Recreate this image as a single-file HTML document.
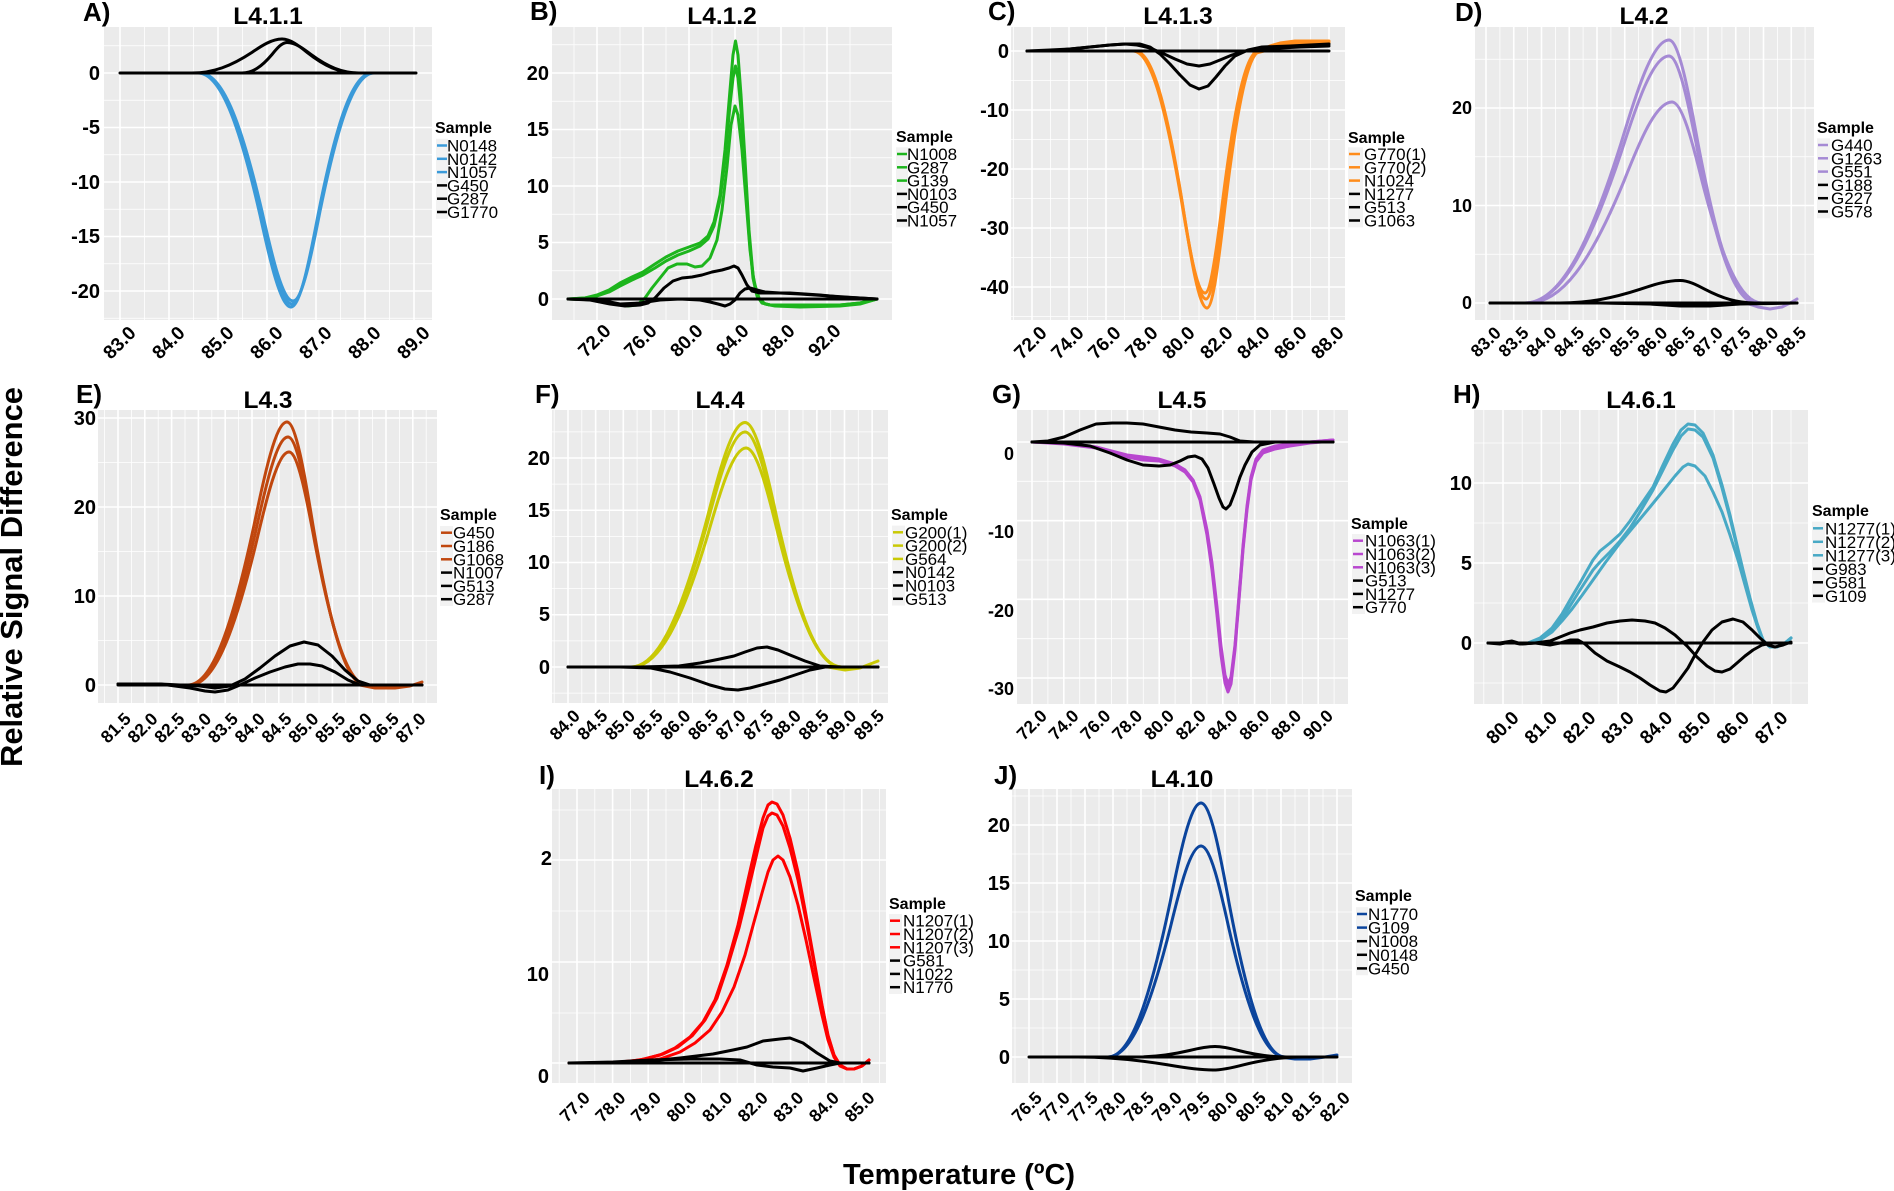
<!DOCTYPE html>
<html><head><meta charset="utf-8"><style>
html,body{margin:0;padding:0;background:#fff}
svg{display:block}
text{font-family:"Liberation Sans",Arial,sans-serif;fill:#000}
.t{font-weight:bold;font-size:24.5px;text-anchor:middle}
.L{font-weight:bold;font-size:26px}
.xl{font-weight:bold;font-size:19px;text-anchor:end}
.xs{font-weight:bold;font-size:17.5px;text-anchor:end}
.yl{font-weight:bold;font-size:20px;text-anchor:end}
.ys{font-weight:bold;font-size:18px;text-anchor:end}
.lt{font-weight:bold;font-size:16px}
.li{font-size:17px}
.bg{fill:#ebebeb}
.mj{stroke:#fff;stroke-width:1.6;fill:none}
.mn{stroke:#fff;stroke-width:.8;fill:none}
.cv path,.cv polyline{fill:none;stroke-width:3;stroke-linejoin:round;stroke-linecap:round;vector-effect:non-scaling-stroke}
.kb{fill:#f2f2f2}
.k path{stroke-width:2.5;fill:none}
</style></head><body>
<svg width="1894" height="1191" viewBox="0 0 1894 1191" xmlns="http://www.w3.org/2000/svg">

<!-- backgrounds -->
<rect class="bg" x="104" y="27" width="328" height="293"/>
<rect class="bg" x="552" y="27" width="340" height="293"/>
<rect class="bg" x="1011" y="27" width="334" height="293"/>
<rect class="bg" x="1475" y="27" width="339" height="293"/>
<rect class="bg" x="98" y="410" width="339" height="293"/>
<rect class="bg" x="552" y="410" width="336" height="293"/>
<rect class="bg" x="1017" y="410" width="331" height="294"/>
<rect class="bg" x="1474" y="410" width="334" height="294"/>
<rect class="bg" x="552" y="789" width="334" height="294"/>
<rect class="bg" x="1012" y="789" width="340" height="294"/>

<!-- grids -->
<path class="mn" d="M144.5,27V320M193.5,27V320M242.5,27V320M291.5,27V320M340.5,27V320M389.5,27V320M104,45.75H432M104,100.25H432M104,154.75H432M104,209.25H432M104,263.75H432M104,318.25H432"/>
<path class="mj" d="M120,27V320M169,27V320M218,27V320M267,27V320M316,27V320M365,27V320M414,27V320M104,73H432M104,127.5H432M104,182H432M104,236.5H432M104,291H432"/>

<path class="mn" d="M574,27V320M620,27V320M666,27V320M712,27V320M758,27V320M804,27V320M850,27V320M552,270.75H892M552,214.25H892M552,157.75H892M552,101.25H892M552,44.75H892"/>
<path class="mj" d="M597,27V320M643,27V320M689,27V320M735,27V320M781,27V320M827,27V320M552,299H892M552,242.5H892M552,186H892M552,129.5H892M552,73H892"/>

<path class="mn" d="M1013.5,27V320M1050.5,27V320M1087.5,27V320M1124.5,27V320M1161.5,27V320M1199,27V320M1236.5,27V320M1273.5,27V320M1310.5,27V320M1011,80.5H1345M1011,139.5H1345M1011,198.5H1345M1011,257.5H1345M1011,316.5H1345"/>
<path class="mj" d="M1032,27V320M1069,27V320M1106,27V320M1143,27V320M1180,27V320M1218,27V320M1255,27V320M1292,27V320M1329,27V320M1011,51H1345M1011,110H1345M1011,169H1345M1011,228H1345M1011,287H1345"/>

<path class="mn" d="M1499.9,27V320M1527.6,27V320M1555.4,27V320M1583.1,27V320M1610.9,27V320M1638.6,27V320M1666.4,27V320M1694.1,27V320M1721.9,27V320M1749.6,27V320M1777.4,27V320M1805.1,27V320M1475,254.25H1814M1475,156.75H1814M1475,59.25H1814"/>
<path class="mj" d="M1486,27V320M1513.75,27V320M1541.5,27V320M1569.25,27V320M1597,27V320M1624.75,27V320M1652.5,27V320M1680.25,27V320M1708,27V320M1735.75,27V320M1763.5,27V320M1791.25,27V320M1475,303H1814M1475,205.5H1814M1475,108H1814"/>

<path class="mn" d="M104.6,410V703M131.4,410V703M158.2,410V703M185,410V703M211.8,410V703M238.6,410V703M265.4,410V703M292.2,410V703M319,410V703M345.8,410V703M372.6,410V703M399.4,410V703M426.2,410V703M98,640.5H437M98,551.5H437M98,462.5H437"/>
<path class="mj" d="M118,410V703M144.8,410V703M171.6,410V703M198.4,410V703M225.2,410V703M252,410V703M278.8,410V703M305.6,410V703M332.4,410V703M359.2,410V703M386,410V703M412.8,410V703M98,685H437M98,596H437M98,507H437M98,418H437"/>

<path class="mn" d="M554.2,410V703M581.8,410V703M609.5,410V703M637.1,410V703M664.8,410V703M692.4,410V703M720.1,410V703M747.7,410V703M775.4,410V703M803,410V703M830.7,410V703M858.3,410V703M552,693.1H888M552,640.9H888M552,588.6H888M552,536.4H888M552,484.1H888M552,431.9H888"/>
<path class="mj" d="M568,410V703M595.65,410V703M623.3,410V703M650.95,410V703M678.6,410V703M706.25,410V703M733.9,410V703M761.55,410V703M789.2,410V703M816.85,410V703M844.5,410V703M872.15,410V703M552,667H888M552,614.75H888M552,562.5H888M552,510.25H888M552,458H888"/>

<path class="mn" d="M1047.9,410V704M1079.7,410V704M1111.5,410V704M1143.3,410V704M1175.1,410V704M1206.9,410V704M1238.7,410V704M1270.5,410V704M1302.3,410V704M1334.1,410V704M1017,481.3H1348M1017,560H1348M1017,638.7H1348"/>
<path class="mj" d="M1032,410V704M1063.8,410V704M1095.6,410V704M1127.4,410V704M1159.2,410V704M1191,410V704M1222.8,410V704M1254.6,410V704M1286.4,410V704M1318.2,410V704M1017,442H1348M1017,520.7H1348M1017,599.3H1348M1017,678H1348"/>

<path class="mn" d="M1483.8,410V704M1522.2,410V704M1560.6,410V704M1599,410V704M1637.4,410V704M1675.8,410V704M1714.2,410V704M1752.6,410V704M1791,410V704M1474,683H1808M1474,603H1808M1474,523H1808M1474,443H1808"/>
<path class="mj" d="M1503,410V704M1541.4,410V704M1579.8,410V704M1618.2,410V704M1656.6,410V704M1695,410V704M1733.4,410V704M1771.8,410V704M1474,643H1808M1474,563H1808M1474,483H1808"/>

<path class="mn" d="M559.2,789V1083M594.8,789V1083M630.4,789V1083M666,789V1083M701.6,789V1083M737.2,789V1083M772.8,789V1083M808.4,789V1083M844,789V1083M879.6,789V1083M552,1013H886M552,911H886M552,810H886"/>
<path class="mj" d="M577,789V1083M612.6,789V1083M648.2,789V1083M683.8,789V1083M719.4,789V1083M755,789V1083M790.6,789V1083M826.2,789V1083M861.8,789V1083M552,1063H886M552,962H886M552,860H886"/>

<path class="mn" d="M1015,789V1083M1043,789V1083M1071,789V1083M1099,789V1083M1127,789V1083M1155,789V1083M1183,789V1083M1211,789V1083M1239,789V1083M1267,789V1083M1295,789V1083M1323,789V1083M1012,1028H1352M1012,970H1352M1012,912H1352M1012,854H1352M1012,796H1352"/>
<path class="mj" d="M1029,789V1083M1057,789V1083M1085,789V1083M1113,789V1083M1141,789V1083M1169,789V1083M1197,789V1083M1225,789V1083M1253,789V1083M1281,789V1083M1309,789V1083M1337,789V1083M1012,1057H1352M1012,999H1352M1012,941H1352M1012,883H1352M1012,825H1352"/>

<!-- ============ CURVES ============ -->
<g class="cv">
<!-- A -->
<g stroke="#3a9ad9">
<path d="M-3,0C-2.3,0 -1.7,-.2 -1,-.607C-.667,-.809 -.333,-1 0,-1" transform="translate(291,73) scale(31,-234)"/>
<path d="M0,-1C.333,-1 .667,-.809 1,-.607C1.7,-.2 2.3,0 3,0" transform="translate(291,73) scale(27,-234)"/>
<path d="M-3,0C-2.3,0 -1.7,-.2 -1,-.607C-.667,-.809 -.333,-1 0,-1" transform="translate(292,73) scale(31,-231)"/>
<path d="M0,-1C.333,-1 .667,-.809 1,-.607C1.7,-.2 2.3,0 3,0" transform="translate(292,73) scale(27,-231)"/>
<path d="M-3,0C-2.3,0 -1.7,-.2 -1,-.607C-.667,-.809 -.333,-1 0,-1" transform="translate(293,73) scale(31,-228)"/>
<path d="M0,-1C.333,-1 .667,-.809 1,-.607C1.7,-.2 2.3,0 3,0" transform="translate(293,73) scale(27,-228)"/>
</g>
<g stroke="#000">
<path d="M-3,0C-2.3,0 -1.7,-.2 -1,-.607C-.667,-.809 -.333,-1 0,-1" transform="translate(282,73) scale(30,34)"/>
<path d="M0,-1C.333,-1 .667,-.809 1,-.607C1.7,-.2 2.3,0 3,0" transform="translate(282,73) scale(25,34)"/>
<path d="M-3,0C-2.3,0 -1.7,-.2 -1,-.607C-.667,-.809 -.333,-1 0,-1" transform="translate(287,73) scale(15,30.5)"/>
<path d="M0,-1C.333,-1 .667,-.809 1,-.607C1.7,-.2 2.3,0 3,0" transform="translate(287,73) scale(24,30.5)"/>
<path d="M120,73H416"/>
</g>

<!-- B -->
<g stroke="#1db51d">
<polyline points="568,299 585,298 597,295 609,290 620,283 632,277 643,272 655,264 666,257 678,251 689,247 700,243 708,236 714,222 720,195 725,150 730,90 733,55 735.5,41 738,55 741,95 745,160 749,230 753,275 757,295 762,303 770,305 800,305 840,305 860,303 877,299"/>
<polyline points="568,299 585,298 597,296 609,292 620,286 632,280 643,275 655,268 666,261 678,255 689,251 700,246 708,239 714,226 720,200 725,160 730,105 733,78 735.5,66 738,78 741,110 745,170 749,235 753,278 757,296 762,303 770,305 800,306 840,305 860,303 877,299"/>
<polyline points="568,299 600,300 615,304 628,306 637,305 645,298 652,288 660,278 668,268 677,264 687,264 695,267 702,266 710,258 717,240 722,210 727,167 731,125 735,106 738,115 742,150 746,200 750,250 754,282 759,298 765,304 775,306 800,307 840,306 860,304 877,299"/>
</g>
<g stroke="#000">
<polyline points="568,299 590,300 610,304 625,306 640,305 648,303 655,298 664,288 673,281 682,278 692,277 702,275 712,272 722,270 729,268 734,266 738,268 742,275 747,285 752,291 760,293 775,293 790,293 805,294 820,295 840,297 860,298 877,299"/>
<polyline points="568,299 600,300 620,304 640,303 660,300 680,299 700,300 710,302 718,304 725,306 730,304 735,300 740,293 745,289 750,288 757,290 765,292 780,293 800,294 830,296 860,298 877,299"/>
<path d="M568,299H877"/>
</g>

<!-- C -->
<g stroke="#ff8c1a">
<path d="M-3,0C-2.3,0 -1.7,-.2 -1,-.607C-.667,-.809 -.333,-1 0,-1" transform="translate(1205,51) scale(24,-242)"/>
<path d="M0,-1C.333,-1 .667,-.809 1,-.607C1.7,-.2 2.3,0 3,0" transform="translate(1205,51) scale(18,-242)"/>
<path d="M-3,0C-2.3,0 -1.7,-.2 -1,-.607C-.667,-.809 -.333,-1 0,-1" transform="translate(1206,51) scale(24,-248)"/>
<path d="M0,-1C.333,-1 .667,-.809 1,-.607C1.7,-.2 2.3,0 3,0" transform="translate(1206,51) scale(18,-248)"/>
<path d="M-3,0C-2.3,0 -1.7,-.2 -1,-.607C-.667,-.809 -.333,-1 0,-1" transform="translate(1207,51) scale(24,-257)"/>
<path d="M0,-1C.333,-1 .667,-.809 1,-.607C1.7,-.2 2.3,0 3,0" transform="translate(1207,51) scale(18,-257)"/>
<polyline points="1254,53 1262,50 1270,46 1280,43 1295,41 1310,41 1329,41"/>
<polyline points="1255,53 1263,50 1271,47 1281,44 1296,42 1311,42 1329,42"/>
<polyline points="1256,53 1264,51 1272,47 1282,45 1297,43 1312,43 1329,43"/>
</g>
<g stroke="#000">
<polyline points="1027,51 1050,50 1070,49 1090,47 1110,45 1125,44 1137,45 1150,48 1162,53 1175,59 1187,64 1199,66 1210,64 1220,60 1232,55 1245,51 1260,49 1280,48 1300,47 1329,46"/>
<polyline points="1027,51 1050,51 1070,49 1090,47 1110,45 1125,44 1140,44 1150,47 1160,54 1170,64 1180,75 1190,85 1199,89 1208,86 1216,77 1225,66 1235,56 1248,50 1262,47 1290,46 1329,44"/>
<path d="M1027,51H1329"/>
</g>

<!-- D -->
<g stroke="#a58ad4">
<path d="M-3,0C-2.3,0 -1.7,-.2 -1,-.607C-.667,-.809 -.333,-1 0,-1" transform="translate(1669,303) scale(48,263)"/>
<path d="M0,-1C.333,-1 .667,-.809 1,-.607C1.7,-.2 2.3,0 3,0" transform="translate(1669,303) scale(29,263)"/>
<path d="M-3,0C-2.3,0 -1.7,-.2 -1,-.607C-.667,-.809 -.333,-1 0,-1" transform="translate(1669,303) scale(48,247)"/>
<path d="M0,-1C.333,-1 .667,-.809 1,-.607C1.7,-.2 2.3,0 3,0" transform="translate(1669,303) scale(29,247)"/>
<path d="M-3,0C-2.3,0 -1.7,-.2 -1,-.607C-.667,-.809 -.333,-1 0,-1" transform="translate(1672,303) scale(48,201)"/>
<path d="M0,-1C.333,-1 .667,-.809 1,-.607C1.7,-.2 2.3,0 3,0" transform="translate(1672,303) scale(30,201)"/>
<polyline points="1746,303 1758,307 1770,309 1782,307 1792,302 1797,299"/>
</g>
<g stroke="#000">
<path d="M-3,0C-2.3,0 -1.7,-.2 -1,-.607C-.667,-.809 -.333,-1 0,-1" transform="translate(1680,303) scale(40,22.5)"/>
<path d="M0,-1C.333,-1 .667,-.809 1,-.607C1.7,-.2 2.3,0 3,0" transform="translate(1680,303) scale(25,22.5)"/>
<polyline points="1490,303 1600,303 1650,304 1680,306 1710,306 1740,304 1797,303"/>
<path d="M1490,303H1797"/>
</g>

<!-- E -->
<g stroke="#c0470e">
<path d="M-3,0C-2.3,0 -1.7,-.2 -1,-.607C-.667,-.809 -.333,-1 0,-1" transform="translate(287,685) scale(33,263)"/>
<path d="M0,-1C.333,-1 .667,-.809 1,-.607C1.7,-.2 2.3,0 3,0" transform="translate(287,685) scale(26,263)"/>
<path d="M-3,0C-2.3,0 -1.7,-.2 -1,-.607C-.667,-.809 -.333,-1 0,-1" transform="translate(288,685) scale(33,248)"/>
<path d="M0,-1C.333,-1 .667,-.809 1,-.607C1.7,-.2 2.3,0 3,0" transform="translate(288,685) scale(26,248)"/>
<path d="M-3,0C-2.3,0 -1.7,-.2 -1,-.607C-.667,-.809 -.333,-1 0,-1" transform="translate(289,685) scale(33,233)"/>
<path d="M0,-1C.333,-1 .667,-.809 1,-.607C1.7,-.2 2.3,0 3,0" transform="translate(289,685) scale(26,233)"/>
<polyline points="360,685 375,688 395,688 410,686 422,682"/>
</g>
<g stroke="#000">
<polyline points="118,684 160,684 200,686 215,688 230,686 245,679 260,668 275,656 290,646 304,642 318,645 332,656 345,670 358,681 370,685 422,685"/>
<polyline points="118,684 160,684 190,688 205,691 215,692 228,690 240,685 255,678 270,672 285,667 298,664 310,664 322,666 335,672 348,680 360,685 422,685"/>
<path d="M118,685H422"/>
</g>

<!-- F -->
<g stroke="#c9c905">
<path d="M-3,0C-2.3,0 -1.7,-.2 -1,-.607C-.667,-.809 -.333,-1 0,-1" transform="translate(745,667) scale(38,244.5)"/>
<path d="M0,-1C.333,-1 .667,-.809 1,-.607C1.7,-.2 2.3,0 3,0" transform="translate(745,667) scale(32,244.5)"/>
<path d="M-3,0C-2.3,0 -1.7,-.2 -1,-.607C-.667,-.809 -.333,-1 0,-1" transform="translate(745,667) scale(38,235)"/>
<path d="M0,-1C.333,-1 .667,-.809 1,-.607C1.7,-.2 2.3,0 3,0" transform="translate(745,667) scale(32,235)"/>
<path d="M-3,0C-2.3,0 -1.7,-.2 -1,-.607C-.667,-.809 -.333,-1 0,-1" transform="translate(746,667) scale(38,219)"/>
<path d="M0,-1C.333,-1 .667,-.809 1,-.607C1.7,-.2 2.3,0 3,0" transform="translate(746,667) scale(32,219)"/>
<polyline points="828,667 845,670 860,668 878,661"/>
</g>
<g stroke="#000">
<polyline points="568,667 640,667 679,666 700,663 720,659 734,656 745,652 757,648 767,647 778,650 790,655 805,661 820,666 840,667 878,667"/>
<polyline points="568,667 620,667 651,668 670,672 690,678 710,685 725,689 738,690 750,688 765,684 780,680 795,675 810,670 825,667 878,667"/>
<path d="M568,667H878"/>
</g>

<!-- G -->
<g stroke="#b847cf">
<polyline points="1032,442 1064,444 1096,448 1127,457 1143,460 1159,461 1175,466 1185,472 1193,482 1200,500 1207,535 1212,570 1217,615 1221,655 1225,683 1228,692 1231,684 1235,650 1239,600 1243,550 1247,510 1251,480 1256,462 1263,453 1275,449 1290,446 1310,443 1333,441"/>
<polyline points="1032,442 1064,443 1096,447 1127,455 1143,457 1159,459 1175,464 1185,470 1193,480 1200,498 1207,532 1212,567 1217,612 1221,652 1225,679 1228,688 1231,680 1235,647 1239,598 1243,548 1247,508 1251,478 1256,460 1263,451 1275,447 1290,445 1310,442 1333,440"/>
<polyline points="1032,442 1064,443 1096,447 1127,456 1143,458 1159,460 1175,464 1185,470 1193,480 1200,497 1207,530 1212,563 1217,607 1221,646 1225,675 1228,684 1231,677 1235,645 1239,596 1243,546 1247,506 1251,477 1256,459 1263,450 1275,446 1290,444 1310,442 1333,440"/>
</g>
<g stroke="#000">
<polyline points="1032,442 1048,441 1064,437 1080,430 1096,424 1112,423 1127,423 1143,424 1159,427 1175,430 1191,432 1207,433 1220,434 1230,437 1240,441 1254,442 1333,442"/>
<polyline points="1032,442 1064,443 1090,446 1110,453 1127,460 1143,465 1159,466 1170,465 1180,461 1188,457 1195,456 1202,459 1208,468 1214,484 1219,498 1223,507 1226,509 1230,505 1235,492 1240,477 1245,465 1252,452 1260,445 1275,442 1333,442"/>
<path d="M1032,442H1333"/>
</g>

<!-- H -->
<g stroke="#48a9c5">
<polyline points="1488,643 1528,643 1540,638 1552,628 1562,614 1570,600 1580,583 1593,560 1600,551 1610,543 1620,534 1630,521 1640,506 1653,487 1663,465 1673,444 1681,430 1688,424 1695,425 1703,433 1713,455 1722,485 1730,515 1737,545 1743,570 1750,598 1757,623 1763,640 1770,647 1777,647 1785,643 1791,638"/>
<polyline points="1488,643 1528,643 1540,639 1552,630 1562,618 1570,606 1580,590 1593,570 1600,562 1610,552 1620,541 1630,528 1640,512 1653,490 1663,470 1673,450 1681,436 1688,429 1695,430 1703,437 1713,458 1722,488 1730,518 1737,547 1743,572 1750,600 1757,625 1763,641 1770,647 1777,647 1785,643 1791,638"/>
<polyline points="1488,643 1528,643 1540,640 1552,632 1562,621 1572,609 1583,594 1593,580 1605,563 1620,543 1635,525 1650,507 1663,491 1675,476 1683,467 1688,464 1695,466 1705,476 1713,492 1722,512 1730,535 1738,560 1745,585 1752,610 1758,628 1764,642 1770,647 1777,647 1785,643 1791,638"/>
</g>
<g stroke="#000">
<polyline points="1488,643 1500,644 1510,642 1520,644 1535,643 1550,641 1560,637 1570,633 1580,630 1593,627 1607,623 1620,621 1632,620 1645,621 1655,623 1665,628 1675,635 1687,646 1697,657 1707,666 1715,671 1722,672 1730,669 1737,663 1745,656 1753,650 1762,645 1772,643 1791,643"/>
<polyline points="1488,643 1500,643 1512,641 1522,644 1535,643 1550,645 1560,643 1570,640 1578,640 1585,644 1595,653 1607,661 1620,667 1630,672 1640,678 1650,685 1660,691 1666,692 1673,688 1680,679 1688,668 1695,655 1703,642 1712,630 1722,622 1733,619 1743,622 1752,630 1760,638 1768,645 1775,647 1783,645 1791,642"/>
<path d="M1488,643H1791"/>
</g>

<!-- I -->
<g stroke="#ff0000">
<polyline points="569,1063 600,1063 620,1062 640,1060 660,1055 675,1048 690,1037 703,1022 715,1000 727,965 738,925 748,880 756,845 763,818 768,805 772,802 777,804 783,815 790,838 798,872 806,915 814,960 822,1005 828,1035 834,1055 840,1065 847,1069 854,1069 862,1066 869,1060"/>
<polyline points="569,1063 600,1063 625,1062 645,1059 663,1054 678,1047 692,1036 705,1020 717,998 728,965 739,928 749,887 757,853 763,828 768,816 772,813 777,815 783,826 790,848 798,880 806,920 814,963 822,1006 828,1036 834,1055 840,1065 847,1069 854,1069 862,1066 869,1060"/>
<polyline points="569,1063 610,1063 640,1062 660,1059 680,1052 695,1043 710,1030 722,1012 734,987 745,955 754,922 762,893 768,872 773,860 778,856 783,860 790,877 798,905 806,940 814,978 822,1015 828,1040 834,1057 840,1066 847,1069 854,1069 862,1066 869,1060"/>
</g>
<g stroke="#000">
<polyline points="569,1063 613,1063 650,1061 680,1058 713,1054 733,1050 747,1047 763,1041 780,1039 790,1038 803,1043 817,1053 830,1061 840,1063 869,1063"/>
<polyline points="569,1063 613,1062 650,1060 690,1059 720,1059 740,1060 757,1065 773,1067 790,1068 803,1071 817,1068 830,1065 840,1063 869,1063"/>
<path d="M569,1063H869"/>
</g>

<!-- J -->
<g stroke="#0b449c">
<path d="M-3,0C-2.3,0 -1.7,-.2 -1,-.607C-.667,-.809 -.333,-1 0,-1" transform="translate(1201,1057) scale(31,254)"/>
<path d="M0,-1C.333,-1 .667,-.809 1,-.607C1.7,-.2 2.3,0 3,0" transform="translate(1201,1057) scale(28,254)"/>
<path d="M-3,0C-2.3,0 -1.7,-.2 -1,-.607C-.667,-.809 -.333,-1 0,-1" transform="translate(1201,1057) scale(31,211)"/>
<path d="M0,-1C.333,-1 .667,-.809 1,-.607C1.7,-.2 2.3,0 3,0" transform="translate(1201,1057) scale(28,211)"/>
<polyline points="1280,1057 1295,1059 1310,1059 1325,1057 1337,1055"/>
</g>
<g stroke="#000">
<path d="M-3,0C-2.3,0 -1.7,-.2 -1,-.607C-.667,-.809 -.333,-1 0,-1" transform="translate(1215,1057) scale(26,10.5)"/>
<path d="M0,-1C.333,-1 .667,-.809 1,-.607C1.7,-.2 2.3,0 3,0" transform="translate(1215,1057) scale(24,10.5)"/>
<path d="M-3,0C-2.3,0 -1.7,-.2 -1,-.607C-.667,-.809 -.333,-1 0,-1" transform="translate(1213,1057) scale(45,-13)"/>
<path d="M0,-1C.333,-1 .667,-.809 1,-.607C1.7,-.2 2.3,0 3,0" transform="translate(1213,1057) scale(30,-13)"/>
<path d="M1029,1057H1337"/>
</g>
</g>

<!-- ============ TITLES & LETTERS ============ -->
<text class="t" x="268" y="24">L4.1.1</text>
<text class="t" x="722" y="24">L4.1.2</text>
<text class="t" x="1178" y="24">L4.1.3</text>
<text class="t" x="1644" y="24">L4.2</text>
<text class="t" x="268" y="408">L4.3</text>
<text class="t" x="720" y="408">L4.4</text>
<text class="t" x="1182" y="408">L4.5</text>
<text class="t" x="1641" y="408">L4.6.1</text>
<text class="t" x="719" y="787">L4.6.2</text>
<text class="t" x="1182" y="787">L4.10</text>

<text class="L" x="83" y="21">A)</text>
<text class="L" x="530" y="20">B)</text>
<text class="L" x="988" y="20">C)</text>
<text class="L" x="1455" y="21">D)</text>
<text class="L" x="76" y="403">E)</text>
<text class="L" x="535" y="403">F)</text>
<text class="L" x="992" y="403">G)</text>
<text class="L" x="1453" y="403">H)</text>
<text class="L" x="539" y="784">I)</text>
<text class="L" x="994" y="784">J)</text>

<!-- ============ Y LABELS ============ -->
<g class="yl">
<text x="100" y="80">0</text><text x="100" y="134">-5</text><text x="100" y="189">-10</text><text x="100" y="243">-15</text><text x="100" y="298">-20</text>
<text x="549" y="306">0</text><text x="549" y="249">5</text><text x="549" y="193">10</text><text x="549" y="136">15</text><text x="549" y="80">20</text>
<text x="1009" y="58">0</text><text x="1009" y="117">-10</text><text x="1009" y="176">-20</text><text x="1009" y="235">-30</text><text x="1009" y="294">-40</text>
<text x="96" y="692">0</text><text x="96" y="603">10</text><text x="96" y="514">20</text><text x="96" y="425">30</text>
<text x="550" y="674">0</text><text x="550" y="621">5</text><text x="550" y="569">10</text><text x="550" y="517">15</text><text x="550" y="465">20</text>
<text x="1472" y="650">0</text><text x="1472" y="570">5</text><text x="1472" y="490">10</text>
<text x="552" y="865">2</text><text x="549" y="981">10</text><text x="549" y="1083">0</text>
<text x="1010" y="1064">0</text><text x="1010" y="1006">5</text><text x="1010" y="948">10</text><text x="1010" y="890">15</text><text x="1010" y="832">20</text>
</g>
<g class="ys">
<text x="1472" y="309">0</text><text x="1472" y="212">10</text><text x="1472" y="114">20</text>
<text x="1014" y="460">0</text><text x="1014" y="538">-10</text><text x="1014" y="617">-20</text><text x="1014" y="695">-30</text>
</g>

<!-- ============ X LABELS ============ -->
<g class="xl">
<text x="137" y="334" transform="rotate(-45 137 334)">83.0</text>
<text x="186" y="334" transform="rotate(-45 186 334)">84.0</text>
<text x="235" y="334" transform="rotate(-45 235 334)">85.0</text>
<text x="284" y="334" transform="rotate(-45 284 334)">86.0</text>
<text x="333" y="334" transform="rotate(-45 333 334)">87.0</text>
<text x="382" y="334" transform="rotate(-45 382 334)">88.0</text>
<text x="431" y="334" transform="rotate(-45 431 334)">89.0</text>

<text x="612" y="332" transform="rotate(-45 612 332)">72.0</text>
<text x="658" y="332" transform="rotate(-45 658 332)">76.0</text>
<text x="704" y="332" transform="rotate(-45 704 332)">80.0</text>
<text x="750" y="332" transform="rotate(-45 750 332)">84.0</text>
<text x="796" y="332" transform="rotate(-45 796 332)">88.0</text>
<text x="842" y="332" transform="rotate(-45 842 332)">92.0</text>

<text x="1048" y="334" transform="rotate(-45 1048 334)">72.0</text>
<text x="1085" y="334" transform="rotate(-45 1085 334)">74.0</text>
<text x="1122" y="334" transform="rotate(-45 1122 334)">76.0</text>
<text x="1159" y="334" transform="rotate(-45 1159 334)">78.0</text>
<text x="1196" y="334" transform="rotate(-45 1196 334)">80.0</text>
<text x="1234" y="334" transform="rotate(-45 1234 334)">82.0</text>
<text x="1271" y="334" transform="rotate(-45 1271 334)">84.0</text>
<text x="1308" y="334" transform="rotate(-45 1308 334)">86.0</text>
<text x="1345" y="334" transform="rotate(-45 1345 334)">88.0</text>

<text x="1520" y="719" transform="rotate(-45 1520 719)">80.0</text>
<text x="1558.4" y="719" transform="rotate(-45 1558.4 719)">81.0</text>
<text x="1596.8" y="719" transform="rotate(-45 1596.8 719)">82.0</text>
<text x="1635.2" y="719" transform="rotate(-45 1635.2 719)">83.0</text>
<text x="1673.6" y="719" transform="rotate(-45 1673.6 719)">84.0</text>
<text x="1712" y="719" transform="rotate(-45 1712 719)">85.0</text>
<text x="1750.4" y="719" transform="rotate(-45 1750.4 719)">86.0</text>
<text x="1788.8" y="719" transform="rotate(-45 1788.8 719)">87.0</text>
</g>
<g class="xs">
<text x="1502" y="334" transform="rotate(-45 1502 334)">83.0</text>
<text x="1529.75" y="334" transform="rotate(-45 1529.75 334)">83.5</text>
<text x="1557.5" y="334" transform="rotate(-45 1557.5 334)">84.0</text>
<text x="1585.25" y="334" transform="rotate(-45 1585.25 334)">84.5</text>
<text x="1613" y="334" transform="rotate(-45 1613 334)">85.0</text>
<text x="1640.75" y="334" transform="rotate(-45 1640.75 334)">85.5</text>
<text x="1668.5" y="334" transform="rotate(-45 1668.5 334)">86.0</text>
<text x="1696.25" y="334" transform="rotate(-45 1696.25 334)">86.5</text>
<text x="1724" y="334" transform="rotate(-45 1724 334)">87.0</text>
<text x="1751.75" y="334" transform="rotate(-45 1751.75 334)">87.5</text>
<text x="1779.5" y="334" transform="rotate(-45 1779.5 334)">88.0</text>
<text x="1807.25" y="334" transform="rotate(-45 1807.25 334)">88.5</text>

<text x="132" y="720" transform="rotate(-45 132 720)">81.5</text>
<text x="158.8" y="720" transform="rotate(-45 158.8 720)">82.0</text>
<text x="185.6" y="720" transform="rotate(-45 185.6 720)">82.5</text>
<text x="212.4" y="720" transform="rotate(-45 212.4 720)">83.0</text>
<text x="239.2" y="720" transform="rotate(-45 239.2 720)">83.5</text>
<text x="266" y="720" transform="rotate(-45 266 720)">84.0</text>
<text x="292.8" y="720" transform="rotate(-45 292.8 720)">84.5</text>
<text x="319.6" y="720" transform="rotate(-45 319.6 720)">85.0</text>
<text x="346.4" y="720" transform="rotate(-45 346.4 720)">85.5</text>
<text x="373.2" y="720" transform="rotate(-45 373.2 720)">86.0</text>
<text x="400" y="720" transform="rotate(-45 400 720)">86.5</text>
<text x="426.8" y="720" transform="rotate(-45 426.8 720)">87.0</text>

<text x="581" y="717" transform="rotate(-45 581 717)">84.0</text>
<text x="608.65" y="717" transform="rotate(-45 608.65 717)">84.5</text>
<text x="636.3" y="717" transform="rotate(-45 636.3 717)">85.0</text>
<text x="663.95" y="717" transform="rotate(-45 663.95 717)">85.5</text>
<text x="691.6" y="717" transform="rotate(-45 691.6 717)">86.0</text>
<text x="719.25" y="717" transform="rotate(-45 719.25 717)">86.5</text>
<text x="746.9" y="717" transform="rotate(-45 746.9 717)">87.0</text>
<text x="774.55" y="717" transform="rotate(-45 774.55 717)">87.5</text>
<text x="802.2" y="717" transform="rotate(-45 802.2 717)">88.0</text>
<text x="829.85" y="717" transform="rotate(-45 829.85 717)">88.5</text>
<text x="857.5" y="717" transform="rotate(-45 857.5 717)">89.0</text>
<text x="885.15" y="717" transform="rotate(-45 885.15 717)">89.5</text>

<text x="1048" y="717" transform="rotate(-45 1048 717)">72.0</text>
<text x="1079.8" y="717" transform="rotate(-45 1079.8 717)">74.0</text>
<text x="1111.6" y="717" transform="rotate(-45 1111.6 717)">76.0</text>
<text x="1143.4" y="717" transform="rotate(-45 1143.4 717)">78.0</text>
<text x="1175.2" y="717" transform="rotate(-45 1175.2 717)">80.0</text>
<text x="1207" y="717" transform="rotate(-45 1207 717)">82.0</text>
<text x="1238.8" y="717" transform="rotate(-45 1238.8 717)">84.0</text>
<text x="1270.6" y="717" transform="rotate(-45 1270.6 717)">86.0</text>
<text x="1302.4" y="717" transform="rotate(-45 1302.4 717)">88.0</text>
<text x="1334.2" y="717" transform="rotate(-45 1334.2 717)">90.0</text>

<text x="591" y="1099" transform="rotate(-45 591 1099)">77.0</text>
<text x="626.6" y="1099" transform="rotate(-45 626.6 1099)">78.0</text>
<text x="662.2" y="1099" transform="rotate(-45 662.2 1099)">79.0</text>
<text x="697.8" y="1099" transform="rotate(-45 697.8 1099)">80.0</text>
<text x="733.4" y="1099" transform="rotate(-45 733.4 1099)">81.0</text>
<text x="769" y="1099" transform="rotate(-45 769 1099)">82.0</text>
<text x="804.6" y="1099" transform="rotate(-45 804.6 1099)">83.0</text>
<text x="840.2" y="1099" transform="rotate(-45 840.2 1099)">84.0</text>
<text x="875.8" y="1099" transform="rotate(-45 875.8 1099)">85.0</text>

<text x="1043" y="1099" transform="rotate(-45 1043 1099)">76.5</text>
<text x="1071" y="1099" transform="rotate(-45 1071 1099)">77.0</text>
<text x="1099" y="1099" transform="rotate(-45 1099 1099)">77.5</text>
<text x="1127" y="1099" transform="rotate(-45 1127 1099)">78.0</text>
<text x="1155" y="1099" transform="rotate(-45 1155 1099)">78.5</text>
<text x="1183" y="1099" transform="rotate(-45 1183 1099)">79.0</text>
<text x="1211" y="1099" transform="rotate(-45 1211 1099)">79.5</text>
<text x="1239" y="1099" transform="rotate(-45 1239 1099)">80.0</text>
<text x="1267" y="1099" transform="rotate(-45 1267 1099)">80.5</text>
<text x="1295" y="1099" transform="rotate(-45 1295 1099)">81.0</text>
<text x="1323" y="1099" transform="rotate(-45 1323 1099)">81.5</text>
<text x="1351" y="1099" transform="rotate(-45 1351 1099)">82.0</text>
</g>

<!-- ============ LEGENDS ============ -->
<g transform="translate(435,145.5)">
<text class="lt" x="0" y="-12.5">Sample</text>
<rect class="kb" x="1" y="-6.7" width="12" height="80"/>
<g class="k"><path d="M2,0h10" stroke="#3a9ad9"/><path d="M2,13.3h10" stroke="#3a9ad9"/><path d="M2,26.6h10" stroke="#3a9ad9"/><path d="M2,39.9h10" stroke="#000"/><path d="M2,53.2h10" stroke="#000"/><path d="M2,66.5h10" stroke="#000"/></g>
<g class="li"><text x="12" y="6">N0148</text><text x="12" y="19.3">N0142</text><text x="12" y="32.6">N1057</text><text x="12" y="45.9">G450</text><text x="12" y="59.2">G287</text><text x="12" y="72.5">G1770</text></g>
</g>
<g transform="translate(896,154)">
<text class="lt" x="0" y="-12">Sample</text>
<rect class="kb" x="0" y="-6.7" width="12" height="80"/>
<g class="k"><path d="M1,0h10" stroke="#1db51d"/><path d="M1,13.3h10" stroke="#1db51d"/><path d="M1,26.6h10" stroke="#1db51d"/><path d="M1,39.9h10" stroke="#000"/><path d="M1,53.2h10" stroke="#000"/><path d="M1,66.5h10" stroke="#000"/></g>
<g class="li"><text x="11" y="6">N1008</text><text x="11" y="19.3">G287</text><text x="11" y="32.6">G139</text><text x="11" y="45.9">N0103</text><text x="11" y="59.2">G450</text><text x="11" y="72.5">N1057</text></g>
</g>
<g transform="translate(1348,154)">
<text class="lt" x="0" y="-11">Sample</text>
<rect class="kb" x="0" y="-6.7" width="15" height="80"/>
<g class="k"><path d="M1,0h11" stroke="#ff8c1a"/><path d="M1,13.3h11" stroke="#ff8c1a"/><path d="M1,26.6h11" stroke="#ff8c1a"/><path d="M1,39.9h11" stroke="#000"/><path d="M1,53.2h11" stroke="#000"/><path d="M1,66.5h11" stroke="#000"/></g>
<g class="li"><text x="16" y="6">G770(1)</text><text x="16" y="19.3">G770(2)</text><text x="16" y="32.6">N1024</text><text x="16" y="45.9">N1277</text><text x="16" y="59.2">G513</text><text x="16" y="72.5">G1063</text></g>
</g>
<g transform="translate(1817,145)">
<text class="lt" x="0" y="-12">Sample</text>
<rect class="kb" x="0" y="-6.7" width="13" height="80"/>
<g class="k"><path d="M1,0h10" stroke="#a58ad4"/><path d="M1,13.3h10" stroke="#a58ad4"/><path d="M1,26.6h10" stroke="#a58ad4"/><path d="M1,39.9h10" stroke="#000"/><path d="M1,53.2h10" stroke="#000"/><path d="M1,66.5h10" stroke="#000"/></g>
<g class="li"><text x="14" y="6">G440</text><text x="14" y="19.3">G1263</text><text x="14" y="32.6">G551</text><text x="14" y="45.9">G188</text><text x="14" y="59.2">G227</text><text x="14" y="72.5">G578</text></g>
</g>
<g transform="translate(440,532.7)">
<text class="lt" x="0" y="-12.7">Sample</text>
<rect class="kb" x="0" y="-6.7" width="13" height="80"/>
<g class="k"><path d="M1,0h11" stroke="#c0470e"/><path d="M1,13.3h11" stroke="#c0470e"/><path d="M1,26.6h11" stroke="#c0470e"/><path d="M1,39.9h11" stroke="#000"/><path d="M1,53.2h11" stroke="#000"/><path d="M1,66.5h11" stroke="#000"/></g>
<g class="li"><text x="13" y="6">G450</text><text x="13" y="19.3">G186</text><text x="13" y="32.6">G1068</text><text x="13" y="45.9">N1007</text><text x="13" y="59.2">G513</text><text x="13" y="72.5">G287</text></g>
</g>
<g transform="translate(891,532.3)">
<text class="lt" x="0" y="-12.3">Sample</text>
<rect class="kb" x="1" y="-6.7" width="13" height="80"/>
<g class="k"><path d="M2,0h10" stroke="#c9c905"/><path d="M2,13.3h10" stroke="#c9c905"/><path d="M2,26.6h10" stroke="#c9c905"/><path d="M2,39.9h10" stroke="#000"/><path d="M2,53.2h10" stroke="#000"/><path d="M2,66.5h10" stroke="#000"/></g>
<g class="li"><text x="14" y="6">G200(1)</text><text x="14" y="19.3">G200(2)</text><text x="14" y="32.6">G564</text><text x="14" y="45.9">N0142</text><text x="14" y="59.2">N0103</text><text x="14" y="72.5">G513</text></g>
</g>
<g transform="translate(1351,540.7)">
<text class="lt" x="0" y="-11.7">Sample</text>
<rect class="kb" x="1" y="-6.7" width="13" height="80"/>
<g class="k"><path d="M2,0h10" stroke="#b847cf"/><path d="M2,13.3h10" stroke="#b847cf"/><path d="M2,26.6h10" stroke="#b847cf"/><path d="M2,39.9h10" stroke="#000"/><path d="M2,53.2h10" stroke="#000"/><path d="M2,66.5h10" stroke="#000"/></g>
<g class="li"><text x="14" y="6">N1063(1)</text><text x="14" y="19.3">N1063(2)</text><text x="14" y="32.6">N1063(3)</text><text x="14" y="45.9">G513</text><text x="14" y="59.2">N1277</text><text x="14" y="72.5">G770</text></g>
</g>
<g transform="translate(1812,528.3)">
<text class="lt" x="0" y="-12.3">Sample</text>
<rect class="kb" x="0" y="-6.7" width="13" height="81"/>
<g class="k"><path d="M1,0h10" stroke="#48a9c5"/><path d="M1,13.5h10" stroke="#48a9c5"/><path d="M1,27h10" stroke="#48a9c5"/><path d="M1,40.5h10" stroke="#000"/><path d="M1,54h10" stroke="#000"/><path d="M1,67.5h10" stroke="#000"/></g>
<g class="li"><text x="13" y="6">N1277(1)</text><text x="13" y="19.5">N1277(2)</text><text x="13" y="33">N1277(3)</text><text x="13" y="46.5">G983</text><text x="13" y="60">G581</text><text x="13" y="73.5">G109</text></g>
</g>
<g transform="translate(889,920.7)">
<text class="lt" x="0" y="-11.7">Sample</text>
<rect class="kb" x="0" y="-6.7" width="13" height="80"/>
<g class="k"><path d="M1,0h10" stroke="#ff0000"/><path d="M1,13.3h10" stroke="#ff0000"/><path d="M1,26.6h10" stroke="#ff0000"/><path d="M1,39.9h10" stroke="#000"/><path d="M1,53.2h10" stroke="#000"/><path d="M1,66.5h10" stroke="#000"/></g>
<g class="li"><text x="14" y="6">N1207(1)</text><text x="14" y="19.3">N1207(2)</text><text x="14" y="32.6">N1207(3)</text><text x="14" y="45.9">G581</text><text x="14" y="59.2">N1022</text><text x="14" y="72.5">N1770</text></g>
</g>
<g transform="translate(1355,914)">
<text class="lt" x="0" y="-13">Sample</text>
<rect class="kb" x="1" y="-6.8" width="12" height="68"/>
<g class="k"><path d="M2,0h10" stroke="#0b449c"/><path d="M2,13.6h10" stroke="#0b449c"/><path d="M2,27.2h10" stroke="#000"/><path d="M2,40.8h10" stroke="#000"/><path d="M2,54.4h10" stroke="#000"/></g>
<g class="li"><text x="13" y="6">N1770</text><text x="13" y="19.6">G109</text><text x="13" y="33.2">N1008</text><text x="13" y="46.8">N0148</text><text x="13" y="60.4">G450</text></g>
</g>

<!-- axis titles -->
<text x="959" y="1184" text-anchor="middle" font-weight="bold" font-size="29" textLength="232" lengthAdjust="spacingAndGlyphs">Temperature (ºC)</text>
<text transform="translate(22,577) rotate(-90)" text-anchor="middle" font-weight="bold" font-size="31" textLength="380" lengthAdjust="spacingAndGlyphs">Relative Signal Difference</text>
</svg>
</body></html>
